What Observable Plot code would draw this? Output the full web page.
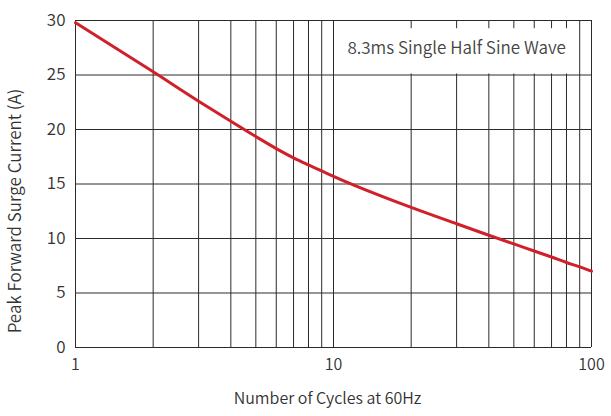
<!DOCTYPE html>
<html>
<head>
<meta charset="utf-8">
<script src="https://cdn.jsdelivr.net/npm/d3@7"></script>
<script src="https://cdn.jsdelivr.net/npm/@observablehq/plot@0.6"></script>
<style>
  html, body { margin: 0; padding: 0; background: #fff; }
</style>
</head>
<body>
<div id="chart"></div>
<script>
// Data
const cycles  = [1, 2, 3, 4, 5, 6, 7, 8, 9, 10, 20, 30, 40, 50, 60, 70, 80, 90, 100];
const current = [29.8, 25.3, 22.6, 20.75, 19.35, 18.25, 17.4, 16.75, 16.2, 15.7, 12.85, 11.35, 10.3, 9.5, 8.85, 8.3, 7.8, 7.4, 7.0];

const xGrid = [1, 2, 3, 4, 5, 6, 7, 8, 9, 10, 20, 30, 40, 50, 60, 70, 80, 90, 100];
const yGrid = [0, 5, 10, 15, 20, 25, 30];
const xTicks = [1, 10, 100];
const yTicks = [0, 5, 10, 15, 20, 25, 30];

const xTitle = "Number of Cycles at 60Hz";
const yTitle = "Peak Forward Surge Current (A)";
const noteText = "8.3ms Single Half Sine Wave";
const noteBox = [{x1: 10, x2: 90, y1: 25, y2: 29.25}];
const noteLabel = [{x: 30, y: 27.4, text: noteText}];

const curve = cycles.map((c, i) => ({x: c, y: current[i]}));

const gridColor = "#2e2a2b";
const textColor = "#333";

const chart = Plot.plot({
  width: 611,
  height: 416,
  marginLeft: 75,
  marginRight: 20,
  marginTop: 20,
  marginBottom: 69,
  style: {
    fontFamily: "'Noto Sans CJK SC', 'Noto Sans', sans-serif",
    fontSize: "15px",
    fontWeight: 350,
    color: textColor,
    background: "#fff"
  },
  x: {type: "log", domain: [1, 100]},
  y: {domain: [0, 30]},
  marks: [
    Plot.ruleX(xGrid, {stroke: gridColor, strokeWidth: 1, strokeOpacity: 1}),
    Plot.ruleY(yGrid, {stroke: gridColor, strokeWidth: 1, strokeOpacity: 1}),
    Plot.rect(noteBox, {x1: "x1", x2: "x2", y1: "y1", y2: "y2", fill: "#fff", insetLeft: 1, insetRight: 1, insetBottom: 1}),
    Plot.text(noteLabel, {x: "x", y: "y", text: "text", fontSize: 17, fill: "#444", textAnchor: "middle",
      letterSpacing: "1.3px"}),
    Plot.line(curve, {x: "x", y: "y", stroke: "#d0202a", strokeWidth: 3, curve: "monotone-x"}),
    Plot.axisX({ticks: xTicks, tickFormat: d => String(d), tickSize: 0, tickPadding: 11, fontSize: 16,
      letterSpacing: "0.5px", label: null}),
    Plot.text([xTitle], {frameAnchor: "bottom", text: d => d, dy: 56, dx: -6, fontSize: 16,
      letterSpacing: "1.4px", fill: textColor, lineAnchor: "bottom"}),
    Plot.axisY({ticks: yTicks, tickSize: 0, tickPadding: 10, fontSize: 17, letterSpacing: "1px",
      label: null}),
    Plot.text([yTitle], {frameAnchor: "left", text: d => d, rotate: -90, dx: -60, dy: 27, fontSize: 17,
      letterSpacing: "1px", fill: textColor, textAnchor: "middle", lineAnchor: "middle"})
  ]
});

document.getElementById("chart").appendChild(chart);
</script>
</body>
</html>
